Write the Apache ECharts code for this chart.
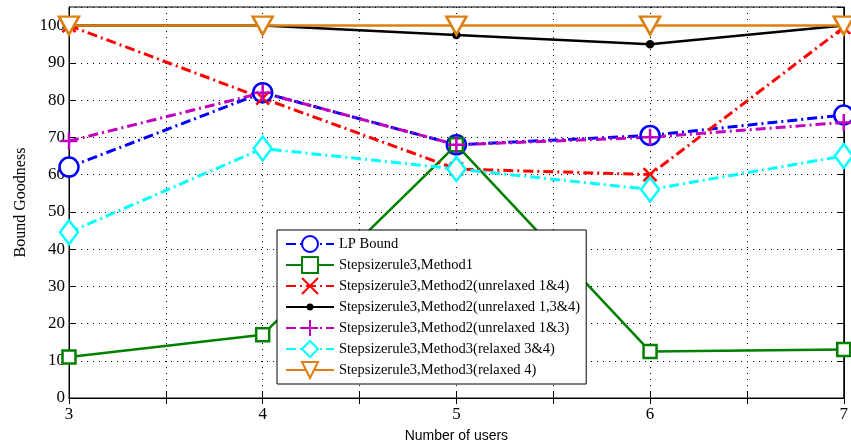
<!DOCTYPE html>
<html>
<head>
<meta charset="utf-8">
<script src="https://cdn.jsdelivr.net/npm/echarts@6/dist/echarts.min.js"></script>
<style>
html,body{margin:0;padding:0;background:#fff;}
#chart{width:851px;height:448px;}
</style>
</head>
<body>
<div id="chart"></div>
<script>
// Number of users on the x axis
const users = [3, 4, 5, 6, 7];
const seriesNames = [
  'LP Bound',
  'Stepsizerule3,Method1',
  'Stepsizerule3,Method2(unrelaxed 1&4)',
  'Stepsizerule3,Method2(unrelaxed 1,3&4)',
  'Stepsizerule3,Method2(unrelaxed 1&3)',
  'Stepsizerule3,Method3(relaxed 3&4)',
  'Stepsizerule3,Method3(relaxed 4)'
];
const lpBound        = [62, 82, 68, 70.5, 76];
const method1        = [11, 17, 68, 12.5, 13];
const method2Unr14   = [100, 80.5, 61.5, 60, 99.5];
const method2Unr134  = [100, 100, 97.5, 95, 100];
const method2Unr13   = [69, 82, 68, 70, 74];
const method3Rel34   = [44.5, 67, 61.5, 56, 65];
const method3Rel4    = [100, 100, 100, 100, 100];
const yTicks = [0, 10, 20, 30, 40, 50, 60, 70, 80, 90, 100];

const pairs = v => users.map((u, i) => [u, v[i]]);
const dashDot = [10, 4, 2, 4];
const crossPath = 'path://M0,0L10,10M10,0L0,10';
const plusPath = 'path://M5,0L5,10M0,5L10,5';
// small dot inside a larger (empty) box so the legend icon keeps it small
const dotPath = 'path://M0,0M20,20M7,10A3,3,0,1,0,13,10A3,3,0,1,0,7,10Z';

function mk(name, data, color, lineType, symbol, size, fill) {
  return {
    name: name,
    type: 'line',
    data: pairs(data),
    symbol: symbol,
    symbolSize: size,
    showAllSymbol: true,
    lineStyle: { color: color, width: lineType === 'solid' ? 2.5 : 3, type: lineType },
    itemStyle: { color: fill, borderColor: color, borderWidth: 2.5 },
    emphasis: { disabled: true },
    animation: false,
    z: 3
  };
}

const chart = echarts.init(document.getElementById('chart'));
const serif = 'Liberation Serif, Times New Roman, serif';
chart.setOption({
  backgroundColor: '#fff',
  animation: false,
  grid: { left: 69, right: 6, top: 7, bottom: 48, show: true, borderColor: '#000', borderWidth: 1 },
  legend: {
    orient: 'vertical',
    left: 277, top: 230,
    width: 306,
    padding: [5, 6, 5, 8],
    backgroundColor: '#fff',
    borderColor: '#000',
    borderWidth: 1,
    itemWidth: 48,
    itemHeight: 20,
    itemGap: 3,
    textStyle: { fontFamily: serif, fontSize: 14.5, color: '#000', padding: [0, 0, 0, 0] },
    data: seriesNames,
    z: 10
  },
  xAxis: [{
    type: 'value', min: 3, max: 7, interval: 0.5,
    name: 'Number of users', nameLocation: 'middle', nameGap: 31,
    nameTextStyle: { fontFamily: 'Liberation Sans, Arial, sans-serif', fontSize: 14, color: '#000' },
    axisLine: { show: true, lineStyle: { color: '#000', width: 1 } },
    axisTick: { inside: true, length: 6, lineStyle: { color: '#000' } },
    axisLabel: {
      fontFamily: serif, fontSize: 17, color: '#000', margin: 8,
      formatter: v => (Number.isInteger(v) ? String(v) : '')
    },
    splitLine: { show: true, lineStyle: { color: '#000', type: [1, 5], width: 1 } }
  }, {
    type: 'value', min: 3, max: 7, interval: 0.5, position: 'top',
    axisLine: { show: true, lineStyle: { color: '#000' } },
    axisTick: { inside: true, length: 6, lineStyle: { color: '#000' } },
    axisLabel: { show: false }, splitLine: { show: false }
  }],
  yAxis: [{
    type: 'value', min: 0, max: 105, interval: 10,
    name: 'Bound Goodness', nameLocation: 'middle', nameGap: 38,
    nameTextStyle: { fontFamily: serif, fontSize: 16, color: '#000' },
    axisLine: { show: true, lineStyle: { color: '#000', width: 1 } },
    axisTick: { inside: true, length: 6, lineStyle: { color: '#000' } },
    axisLabel: {
      fontFamily: serif, fontSize: 17, color: '#000', margin: 4, showMaxLabel: false,
      formatter: v => (yTicks.indexOf(v) >= 0 ? String(v) : '')
    },
    splitLine: { show: true, lineStyle: { color: '#000', type: [1, 5], width: 1 } }
  }, {
    type: 'value', min: 0, max: 105, interval: 10, position: 'right',
    axisLine: { show: true, lineStyle: { color: '#000' } },
    axisTick: { inside: true, length: 6, lineStyle: { color: '#000' } },
    axisLabel: { show: false }, splitLine: { show: false }
  }],
  series: [
    mk(seriesNames[0], lpBound, '#0000ff', dashDot, 'circle', 19, '#fff'),
    mk(seriesNames[1], method1, '#008000', 'solid', 'rect', 13, '#fff'),
    mk(seriesNames[2], method2Unr14, '#ff0000', dashDot, crossPath, 13, 'rgba(0,0,0,0)'),
    mk(seriesNames[3], method2Unr134, '#000000', 'solid', dotPath, 20, '#000'),
    mk(seriesNames[4], method2Unr13, '#bf00bf', dashDot, plusPath, 17, 'rgba(0,0,0,0)'),
    mk(seriesNames[5], method3Rel34, '#00ffff', dashDot, 'diamond', [18, 24], '#fff'),
    mk(seriesNames[6], method3Rel4, '#dd8011', 'solid', 'path://M0,0L10,0L5,9Z', [20, 18], '#fff')
  ]
});
</script>
</body>
</html>
